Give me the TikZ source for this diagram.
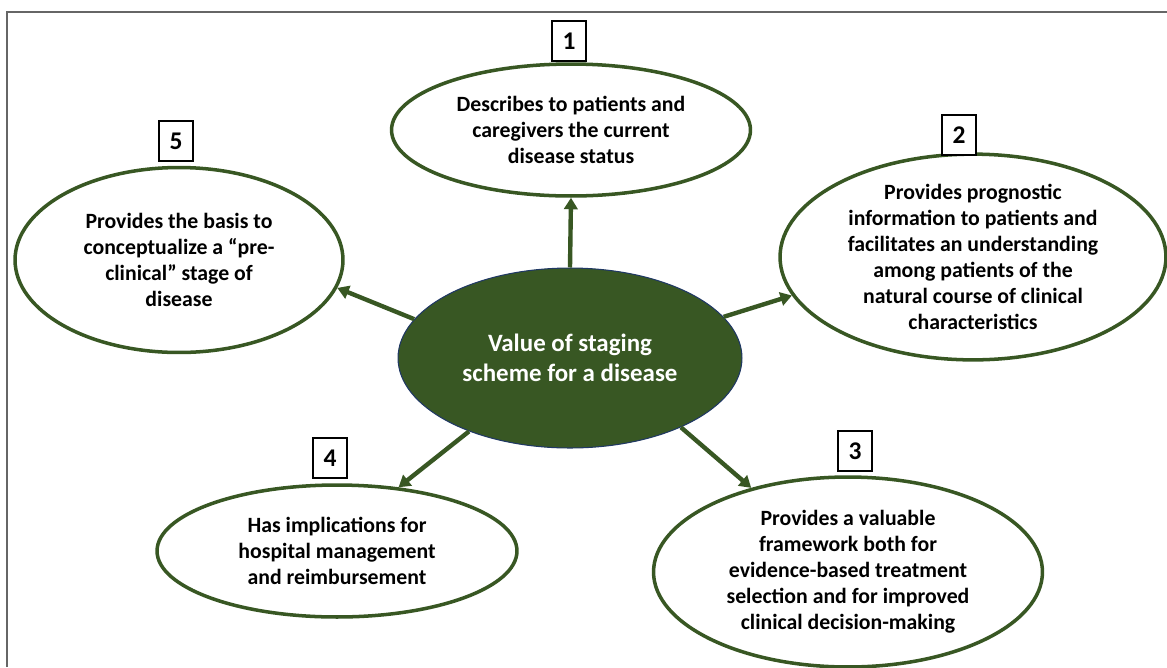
\documentclass[tikz,border=0pt]{standalone}
\usepackage{fontspec}
\setmainfont{Carlito}
\usetikzlibrary{shapes.geometric,arrows.meta}
\definecolor{leaf}{HTML}{385723}
\definecolor{rim}{HTML}{203864}
\definecolor{framegray}{HTML}{666666}
\tikzset{
bubble/.style={ellipse, draw=leaf, line width=2pt, fill=white, inner sep=0pt, align=center,
  font=\fontsize{12.4}{14.8}\selectfont\bfseries},
numbox/.style={draw=black, line width=1.6pt, fill=white, inner sep=0pt,
  minimum width=0.68cm, minimum height=0.8cm, font=\fontsize{14.5}{16}\selectfont\bfseries},
link/.style={draw=leaf, line width=2.5pt, -{Triangle[length=0.23cm,width=0.27cm,fill=leaf]}}
}
\begin{document}
\begin{tikzpicture}[x=0.02cm,y=-0.02cm]
\useasboundingbox (0,0) rectangle (1167,667);
\draw[framegray, line width=1.1pt] (7,667)--(7,12)--(1167,12);
\node[ellipse, fill=leaf, draw=rim, line width=0.6pt, minimum width=6.88cm, minimum height=3.6cm,
  text=white, align=center, font=\fontsize{14.2}{17}\selectfont\bfseries] (centre) at (570,358)
  {Value of staging\\scheme for a disease};
\node[bubble, minimum width=7.18cm, minimum height=2.64cm] (descr) at (571,130)
  {Describes to patients and\\caregivers the current\\disease status};
\node[bubble, minimum width=7.72cm, minimum height=3.9cm] (progn) at (973,257)
  {Provides prognostic\\information to patients and\\facilitates an understanding\\among patients of the\\natural course of clinical\\characteristics};
\node[bubble, minimum width=7.78cm, minimum height=3.8cm] (frame) at (848,572)
  {Provides a valuable\\framework both for\\evidence-based treatment\\selection and for improved\\clinical decision-making};
\node[bubble, minimum width=7.2cm, minimum height=2.64cm] (hosp) at (337,551)
  {Has implications for\\hospital management\\and reimbursement};
\node[bubble, minimum width=6.56cm, minimum height=3.7cm] (precl) at (179,260)
  {Provides the basis to\\conceptualize a “pre-\\clinical” stage of\\disease};
\node[numbox] (n1) at (569,41) {1};
\node[numbox] (n2) at (959,135) {2};
\node[numbox] (n3) at (855,451) {3};
\node[numbox] (n4) at (330,458) {4};
\node[numbox] (n5) at (176,141) {5};
\draw[link] (centre.north)--(descr.south);
\draw[link] (centre.15)--(progn.192);
\draw[link] (centre.-32)--(frame.139);
\draw[link] (centre.216)--(hosp.46);
\draw[link] (centre.166)--(precl.-10);
\end{tikzpicture}
\end{document}
